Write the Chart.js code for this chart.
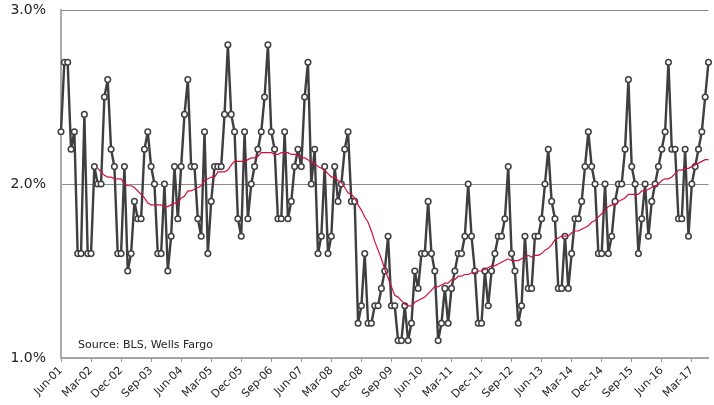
<!DOCTYPE html>
<html>
<head>
<meta charset="utf-8">
<script src="https://cdn.jsdelivr.net/npm/chart.js@4.4.1/dist/chart.umd.min.js"></script>
<style>
  html, body { margin: 0; padding: 0; background: #fff; }
  #wrap { width: 714px; height: 405px; }
</style>
</head>
<body>
<div id="wrap"><canvas id="quitsChart"></canvas></div>
<script>
// monthly series, Jun-01 .. Aug-17
const startYear = 2001;
const startMonth = 5; // June
const monthNames = ['Jan','Feb','Mar','Apr','May','Jun','Jul','Aug','Sep','Oct','Nov','Dec'];

const rateValues = [
  2.3, 2.7, 2.7, 2.2, 2.3, 1.6, 1.6, 2.4, 1.6, 1.6,
  2.1, 2.0, 2.0, 2.5, 2.6, 2.2, 2.1, 1.6, 1.6, 2.1,
  1.5, 1.6, 1.9, 1.8, 1.8, 2.2, 2.3, 2.1, 2.0, 1.6,
  1.6, 2.0, 1.5, 1.7, 2.1, 1.8, 2.1, 2.4, 2.6, 2.1,
  2.1, 1.8, 1.7, 2.3, 1.6, 1.9, 2.1, 2.1, 2.1, 2.4,
  2.8, 2.4, 2.3, 1.8, 1.7, 2.3, 1.8, 2.0, 2.1, 2.2,
  2.3, 2.5, 2.8, 2.3, 2.2, 1.8, 1.8, 2.3, 1.8, 1.9,
  2.1, 2.2, 2.1, 2.5, 2.7, 2.0, 2.2, 1.6, 1.7, 2.1,
  1.6, 1.7, 2.1, 1.9, 2.0, 2.2, 2.3, 1.9, 1.9, 1.2,
  1.3, 1.6, 1.2, 1.2, 1.3, 1.3, 1.4, 1.5, 1.7, 1.3,
  1.3, 1.1, 1.1, 1.3, 1.1, 1.2, 1.5, 1.4, 1.6, 1.6,
  1.9, 1.6, 1.5, 1.1, 1.2, 1.4, 1.2, 1.4, 1.5, 1.6,
  1.6, 1.7, 2.0, 1.7, 1.5, 1.2, 1.2, 1.5, 1.3, 1.5,
  1.6, 1.7, 1.7, 1.8, 2.1, 1.6, 1.5, 1.2, 1.3, 1.7,
  1.4, 1.4, 1.7, 1.7, 1.8, 2.0, 2.2, 1.9, 1.8, 1.4,
  1.4, 1.7, 1.4, 1.6, 1.8, 1.8, 1.9, 2.1, 2.3, 2.1,
  2.0, 1.6, 1.6, 2.0, 1.6, 1.7, 1.9, 2.0, 2.0, 2.2,
  2.6, 2.1, 2.0, 1.6, 1.8, 2.0, 1.7, 1.9, 2.0, 2.1,
  2.2, 2.3, 2.7, 2.2, 2.2, 1.8, 1.8, 2.2, 1.7, 2.0,
  2.1, 2.2, 2.3, 2.5, 2.7
];

// red trend line (starts Jun-02)
const trendValues = [
  null, null, null, null, null, null, null, null, null, null,
  null, 2.09, 2.07, 2.05, 2.04, 2.04, 2.03, 2.03, 2.03, 2.00,
  1.99, 1.99, 1.98, 1.96, 1.94, 1.92, 1.89, 1.88, 1.88, 1.88,
  1.88, 1.87, 1.87, 1.88, 1.89, 1.89, 1.92, 1.93, 1.96, 1.96,
  1.97, 1.98, 1.99, 2.02, 2.03, 2.04, 2.04, 2.07, 2.07, 2.07,
  2.08, 2.11, 2.13, 2.13, 2.13, 2.13, 2.14, 2.15, 2.15, 2.16,
  2.18, 2.18, 2.18, 2.18, 2.17, 2.17, 2.18, 2.18, 2.18, 2.17,
  2.17, 2.17, 2.15, 2.15, 2.14, 2.12, 2.12, 2.10, 2.09, 2.08,
  2.06, 2.04, 2.04, 2.02, 2.01, 1.98, 1.95, 1.94, 1.92, 1.88,
  1.85, 1.81, 1.78, 1.73, 1.67, 1.62, 1.57, 1.51, 1.46, 1.41,
  1.36, 1.35, 1.33, 1.31, 1.30, 1.30, 1.32, 1.33, 1.34, 1.35,
  1.37, 1.39, 1.41, 1.41, 1.42, 1.43, 1.43, 1.45, 1.45, 1.47,
  1.47, 1.48, 1.48, 1.49, 1.49, 1.50, 1.50, 1.51, 1.52, 1.53,
  1.53, 1.54, 1.55, 1.56, 1.57, 1.56, 1.56, 1.56, 1.57, 1.58,
  1.59, 1.58, 1.59, 1.59, 1.60, 1.62, 1.63, 1.65, 1.68, 1.69,
  1.70, 1.70, 1.70, 1.72, 1.73, 1.73, 1.74, 1.75, 1.76, 1.78,
  1.79, 1.81, 1.83, 1.85, 1.87, 1.88, 1.88, 1.90, 1.91, 1.92,
  1.94, 1.94, 1.94, 1.94, 1.96, 1.96, 1.97, 1.98, 1.99, 2.00,
  2.02, 2.03, 2.03, 2.04, 2.06, 2.08, 2.08, 2.09, 2.09, 2.10,
  2.11, 2.12, 2.13, 2.14, 2.14
];

const tickEvery = 9;
const sourceNote = 'Source: BLS, Wells Fargo';

const labels = rateValues.map((v, i) => {
  const m = startMonth + i;
  const yr = startYear + Math.floor(m / 12);
  return monthNames[m % 12] + '-' + String(yr % 100).padStart(2, '0');
});

const fontFamily = '"DejaVu Sans", Verdana, sans-serif';

const notePlugin = {
  id: 'sourceNote',
  afterDraw(chart) {
    const c = chart.ctx;
    c.save();
    c.font = '11px ' + fontFamily;
    c.fillStyle = '#222';
    c.textBaseline = 'alphabetic';
    c.fillText(sourceNote, chart.chartArea.left + 17, chart.chartArea.bottom - 10);
    c.restore();
  }
};

new Chart(document.getElementById('quitsChart').getContext('2d'), {
  type: 'line',
  data: {
    labels: labels,
    datasets: [
      {
        label: 'Trend',
        data: trendValues,
        borderColor: '#d0103a',
        borderWidth: 1.2,
        pointRadius: 0,
        tension: 0,
        spanGaps: false,
        clip: false,
        order: 1
      },
      {
        label: 'Rate',
        data: rateValues,
        borderColor: '#3f3f42',
        borderWidth: 2.4,
        borderJoinStyle: 'round',
        pointRadius: 2.8,
        pointBorderWidth: 1.5,
        pointBackgroundColor: '#ffffff',
        pointBorderColor: '#3f3f42',
        tension: 0,
        clip: false,
        order: 2
      }
    ]
  },
  options: {
    responsive: true,
    maintainAspectRatio: false,
    animation: false,
    layout: { padding: { top: 10, right: 1, left: 0, bottom: 0 } },
    plugins: {
      legend: { display: false },
      tooltip: { enabled: false }
    },
    scales: {
      x: {
        type: 'category',
        offset: false,
        afterFit: (s) => { s.height = 47; s.paddingLeft = 0; s.paddingRight = 0; },
        grid: {
          drawOnChartArea: false,
          drawTicks: true,
          tickLength: 4,
          tickColor: (ctx) => (ctx.index % tickEvery === 0 ? '#9a9a9a' : 'rgba(0,0,0,0)')
        },
        border: { color: '#aaaaaa', width: 1.5 },
        ticks: {
          autoSkip: false,
          maxRotation: 45,
          minRotation: 45,
          padding: 2,
          color: '#222',
          font: { family: fontFamily, size: 11 },
          callback: function(val, idx) {
            return idx % tickEvery === 0 ? this.getLabelForValue(val) : '';
          }
        }
      },
      y: {
        min: 1,
        max: 3,
        afterFit: (s) => { s.width = 61; s.paddingTop = 0; s.paddingBottom = 0; },
        grid: {
          color: '#8c8c8c',
          lineWidth: 1,
          drawTicks: false
        },
        border: { color: '#aaaaaa', width: 2 },
        ticks: {
          stepSize: 1,
          padding: 15,
          color: '#222',
          font: { family: fontFamily, size: 14 },
          callback: (v) => v.toFixed(1) + '%'
        }
      }
    }
  },
  plugins: [notePlugin]
});
</script>
</body>
</html>
